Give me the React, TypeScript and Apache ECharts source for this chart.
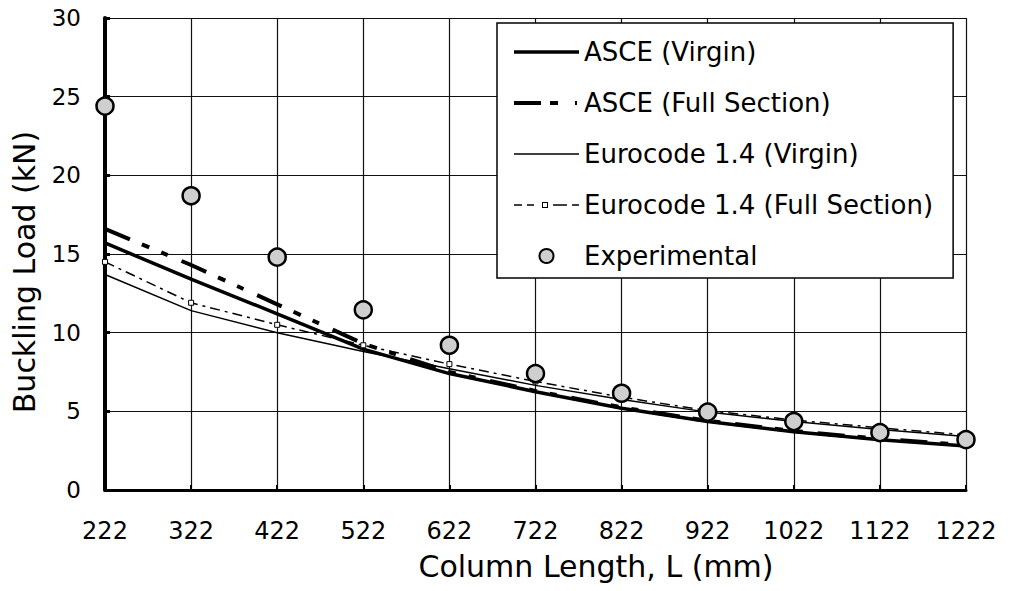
import React, { useEffect, useRef } from "react";
import * as echarts from "echarts";

const categories = ["222", "322", "422", "522", "622", "722", "822", "922", "1022", "1122", "1222"];
const asceVirgin = [15.7, 13.4, 11.2, 8.95, 7.4, 6.25, 5.2, 4.35, 3.7, 3.2, 2.8];
const asceFull = [16.6, 14.3, 11.8, 9.3, 7.5, 6.3, 5.25, 4.4, 3.75, 3.25, 2.85];
const eurocodeVirgin = [13.7, 11.4, 10.0, 8.8, 7.7, 6.65, 5.75, 4.95, 4.35, 3.85, 3.4];
const eurocodeFull = [14.5, 11.9, 10.5, 9.2, 8.0, 6.9, 5.9, 5.05, 4.45, 3.95, 3.5];
const experimental = [24.4, 18.7, 14.8, 11.45, 9.2, 7.4, 6.15, 4.95, 4.35, 3.65, 3.2];
const yTicks = { min: 0, max: 30, interval: 5 };

const FONT = "DejaVu Sans";

const EURO_FULL_ICON =
  "path://M0 6.25h8v1.5h-8z M13 6.25h7v1.5h-7z M28 4h6v6h-6z M29 5v4h4v-4z M39 6.25h14v1.5h-14z M58 6.25h7v1.5h-7z";

export default function App() {
  const ref = useRef<HTMLDivElement>(null);
  useEffect(() => {
    if (!ref.current) return;
    const chart = echarts.init(ref.current, null, { renderer: "svg" });
    chart.setOption({
      animation: false,
      backgroundColor: "#fff",
      textStyle: { fontFamily: FONT, color: "#000" },
      grid: { left: 105, right: 45, top: 18, bottom: 101, containLabel: false },
      xAxis: {
        type: "category",
        data: categories,
        boundaryGap: false,
        axisLine: { lineStyle: { color: "#000", width: 3 } },
        axisTick: { show: true, inside: true, length: 5, lineStyle: { color: "#000", width: 2 } },
        axisLabel: { fontSize: 24, color: "#000", margin: 29, fontFamily: FONT },
        splitLine: { show: true, lineStyle: { color: "#111", width: 1.2 } },
      },
      yAxis: {
        type: "value",
        min: yTicks.min,
        max: yTicks.max,
        interval: yTicks.interval,
        axisLine: { show: true, lineStyle: { color: "#000", width: 4 } },
        axisTick: { show: true, inside: true, length: 5, lineStyle: { color: "#000", width: 3 } },
        axisLabel: { fontSize: 23, color: "#000", margin: 24, fontFamily: FONT },
        splitLine: { show: true, lineStyle: { color: "#111", width: 1.2 } },
      },
      legend: {
        orient: "vertical",
        left: 497,
        top: 23,
        padding: [16, 20, 9, 15],
        itemWidth: 65,
        itemHeight: 14,
        itemGap: 25,
        borderColor: "#000",
        borderWidth: 1.5,
        borderRadius: 0,
        backgroundColor: "#fff",
        z: 20,
        textStyle: { fontFamily: FONT, fontSize: 26, color: "#000", lineHeight: 26 },
        data: [
          {
            name: "ASCE (Virgin)",
            itemStyle: { opacity: 0 },
            lineStyle: { color: "#000", width: 3.5, type: "solid" },
          },
          {
            name: "ASCE (Full Section)",
            itemStyle: { opacity: 0 },
            lineStyle: { color: "#000", width: 4, type: [27, 9, 8, 17, 2, 2] },
          },
          {
            name: "Eurocode 1.4 (Virgin)",
            itemStyle: { opacity: 0 },
            lineStyle: { color: "#000", width: 1.5, type: "solid" },
          },
          {
            name: "Eurocode 1.4 (Full Section)",
            icon: EURO_FULL_ICON,
            itemStyle: { color: "#000", borderWidth: 0 },
          },
          { name: "Experimental" },
        ],
      },
      graphic: [
        {
          type: "text",
          x: 24,
          y: 272,
          rotation: Math.PI / 2,
          style: {
            text: "Buckling Load (kN)",
            fontFamily: FONT,
            fontSize: 30,
            fill: "#000",
            align: "center",
            verticalAlign: "middle",
          },
        },
        {
          type: "text",
          x: 596,
          y: 566,
          style: {
            text: "Column Length, L (mm)",
            fontFamily: FONT,
            fontSize: 30,
            fill: "#000",
            align: "center",
            verticalAlign: "middle",
          },
        },
      ],
      series: [
        {
          name: "ASCE (Virgin)",
          type: "line",
          data: asceVirgin,
          symbol: "none",
          lineStyle: { color: "#000", width: 3.5 },
          itemStyle: { color: "#000" },
          z: 3,
        },
        {
          name: "ASCE (Full Section)",
          type: "line",
          data: asceFull,
          symbol: "none",
          lineStyle: { color: "#000", width: 4, type: [27, 13, 8, 13, 7, 15] },
          itemStyle: { color: "#000" },
          z: 3,
        },
        {
          name: "Eurocode 1.4 (Virgin)",
          type: "line",
          data: eurocodeVirgin,
          symbol: "none",
          lineStyle: { color: "#000", width: 1.5 },
          itemStyle: { color: "#000" },
          z: 3,
        },
        {
          name: "Eurocode 1.4 (Full Section)",
          type: "line",
          data: eurocodeFull,
          symbol: "rect",
          symbolSize: 5,
          showSymbol: true,
          lineStyle: { color: "#000", width: 1.5, type: [10, 5, 3, 5] },
          itemStyle: { color: "#fff", borderColor: "#000", borderWidth: 1 },
          z: 3,
        },
        {
          name: "Experimental",
          type: "scatter",
          data: experimental,
          symbol: "circle",
          symbolSize: 17,
          itemStyle: { color: "#cfcfcf", borderColor: "#000", borderWidth: 2.5, opacity: 1 },
          z: 10,
        },
      ],
    });
    return () => chart.dispose();
  }, []);
  return (
    <div
      ref={ref}
      style={{ position: "fixed", left: 0, top: 0, width: 1011, height: 591, background: "#fff" }}
    />
  );
}
